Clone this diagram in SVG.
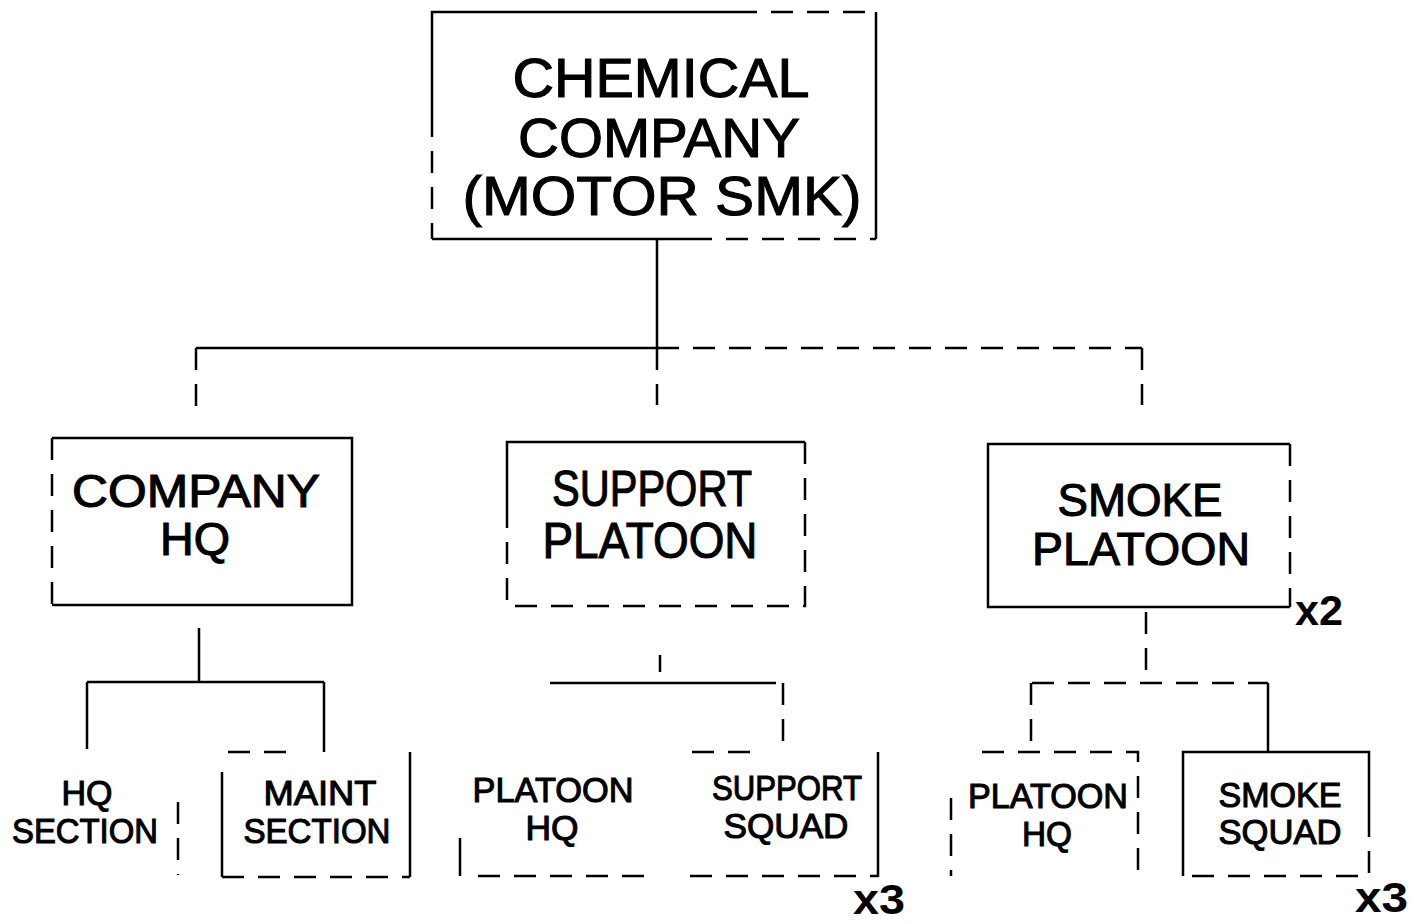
<svg xmlns="http://www.w3.org/2000/svg" width="1422" height="924" viewBox="0 0 1422 924">
<style>
.s{fill:none;stroke:#000;stroke-width:2.5}
.d{fill:none;stroke:#000;stroke-width:2.5;stroke-dasharray:22 14}
.t{font-family:"Liberation Sans",Arial,sans-serif;fill:#000;stroke:#000;stroke-width:1.1;text-anchor:middle}
.big{font-size:56px}
.mid{font-size:50px}
.mid2{font-size:46px}
.sm{font-size:35px}
.mul{font-family:"Liberation Sans",Arial,sans-serif;font-weight:bold;font-size:42px;fill:#000}
</style>
<rect width="1422" height="924" fill="#fff"/>

<g id="connectors">
  <path class="s" d="M657,239 V348 M196,348 H657"/>
  <path class="d" d="M657,348 H1142"/>
  <path class="d" d="M196,348 V410 M657,348 V405 M1142,348 V405"/>
  <path class="s" d="M199,628 V682 M87,682 H324 M87,682 V749 M324,682 V752"/>
  <path class="s" d="M660,655 V672 M550,683 H776"/>
  <path class="d" d="M783,683 V752"/>
  <path class="d" d="M1146,612 V683 M1032,683 H1268 M1031,683 V750"/>
  <path class="s" d="M1268,683 V752"/>
</g>

<g id="chemical-company">
  <path class="s" d="M735,12 H432 V115 M432,239 H690 M876,12 V239"/>
  <path class="d" d="M735,12 H876 M432,115 V239 M690,239 H876"/>
  <text class="t big" x="661" y="97" textLength="297" lengthAdjust="spacingAndGlyphs">CHEMICAL</text>
  <text class="t big" x="659" y="157" textLength="282" lengthAdjust="spacingAndGlyphs">COMPANY</text>
  <text class="t big" x="662" y="215" textLength="399" lengthAdjust="spacingAndGlyphs">(MOTOR SMK)</text>
</g>

<g id="company-hq">
  <path class="s" d="M52,438 H352 V605 H52"/>
  <path class="d" d="M52,438 V605"/>
  <text class="t mid2" x="196" y="507" textLength="248" lengthAdjust="spacingAndGlyphs">COMPANY</text>
  <text class="t mid2" x="195" y="555" textLength="70" lengthAdjust="spacingAndGlyphs">HQ</text>
</g>

<g id="support-platoon">
  <path class="s" d="M507,522 V442 H805"/>
  <path class="d" d="M805,442 V606 H507 V522"/>
  <text class="t mid" x="652" y="506" textLength="200" lengthAdjust="spacingAndGlyphs">SUPPORT</text>
  <text class="t mid" x="650" y="558" textLength="215" lengthAdjust="spacingAndGlyphs">PLATOON</text>
</g>

<g id="smoke-platoon">
  <path class="s" d="M1290,444 H988 V607 H1290"/>
  <path class="d" d="M1290,444 V607"/>
  <text class="t mid2" x="1140" y="516" textLength="165" lengthAdjust="spacingAndGlyphs">SMOKE</text>
  <text class="t mid2" x="1141" y="565" textLength="218" lengthAdjust="spacingAndGlyphs">PLATOON</text>
  <text class="mul" x="1295" y="625" textLength="48" lengthAdjust="spacingAndGlyphs">x2</text>
</g>

<g id="hq-section">
  <path class="d" d="M178,802 V875"/>
  <text class="t sm" x="87" y="805" textLength="51" lengthAdjust="spacingAndGlyphs">HQ</text>
  <text class="t sm" x="85" y="843" textLength="146" lengthAdjust="spacingAndGlyphs">SECTION</text>
</g>

<g id="maint-section">
  <path class="s" d="M222,772 V877 M410,752 V877"/>
  <path class="d" d="M222,877 H410 M228,752 H290"/>
  <text class="t sm" x="320" y="805" textLength="113" lengthAdjust="spacingAndGlyphs">MAINT</text>
  <text class="t sm" x="317" y="843" textLength="147" lengthAdjust="spacingAndGlyphs">SECTION</text>
</g>

<g id="support-platoon-hq">
  <path class="s" d="M460,838 V876"/>
  <path class="d" d="M478,876 H644"/>
  <text class="t sm" x="553" y="802" textLength="161" lengthAdjust="spacingAndGlyphs">PLATOON</text>
  <text class="t sm" x="552" y="840" textLength="53" lengthAdjust="spacingAndGlyphs">HQ</text>
</g>

<g id="support-squad">
  <path class="s" d="M878,752 V877"/>
  <path class="d" d="M690,876 H878 M692,752 H760"/>
  <text class="t sm" x="787" y="800" textLength="150" lengthAdjust="spacingAndGlyphs">SUPPORT</text>
  <text class="t sm" x="786" y="838" textLength="125" lengthAdjust="spacingAndGlyphs">SQUAD</text>
  <text class="mul" x="853" y="914" textLength="52" lengthAdjust="spacingAndGlyphs">x3</text>
</g>

<g id="smoke-platoon-hq">
  <path class="d" d="M982,752 H1138 V876 M951,798 V876"/>
  <text class="t sm" x="1048" y="808" textLength="160" lengthAdjust="spacingAndGlyphs">PLATOON</text>
  <text class="t sm" x="1047" y="846" textLength="50" lengthAdjust="spacingAndGlyphs">HQ</text>
</g>

<g id="smoke-squad">
  <path class="s" d="M1183,876 V752 H1369 V815"/>
  <path class="d" d="M1369,815 V876 H1183"/>
  <text class="t sm" x="1280" y="807" textLength="123" lengthAdjust="spacingAndGlyphs">SMOKE</text>
  <text class="t sm" x="1280" y="844" textLength="123" lengthAdjust="spacingAndGlyphs">SQUAD</text>
  <text class="mul" x="1355" y="912" textLength="53" lengthAdjust="spacingAndGlyphs">x3</text>
</g>
</svg>
